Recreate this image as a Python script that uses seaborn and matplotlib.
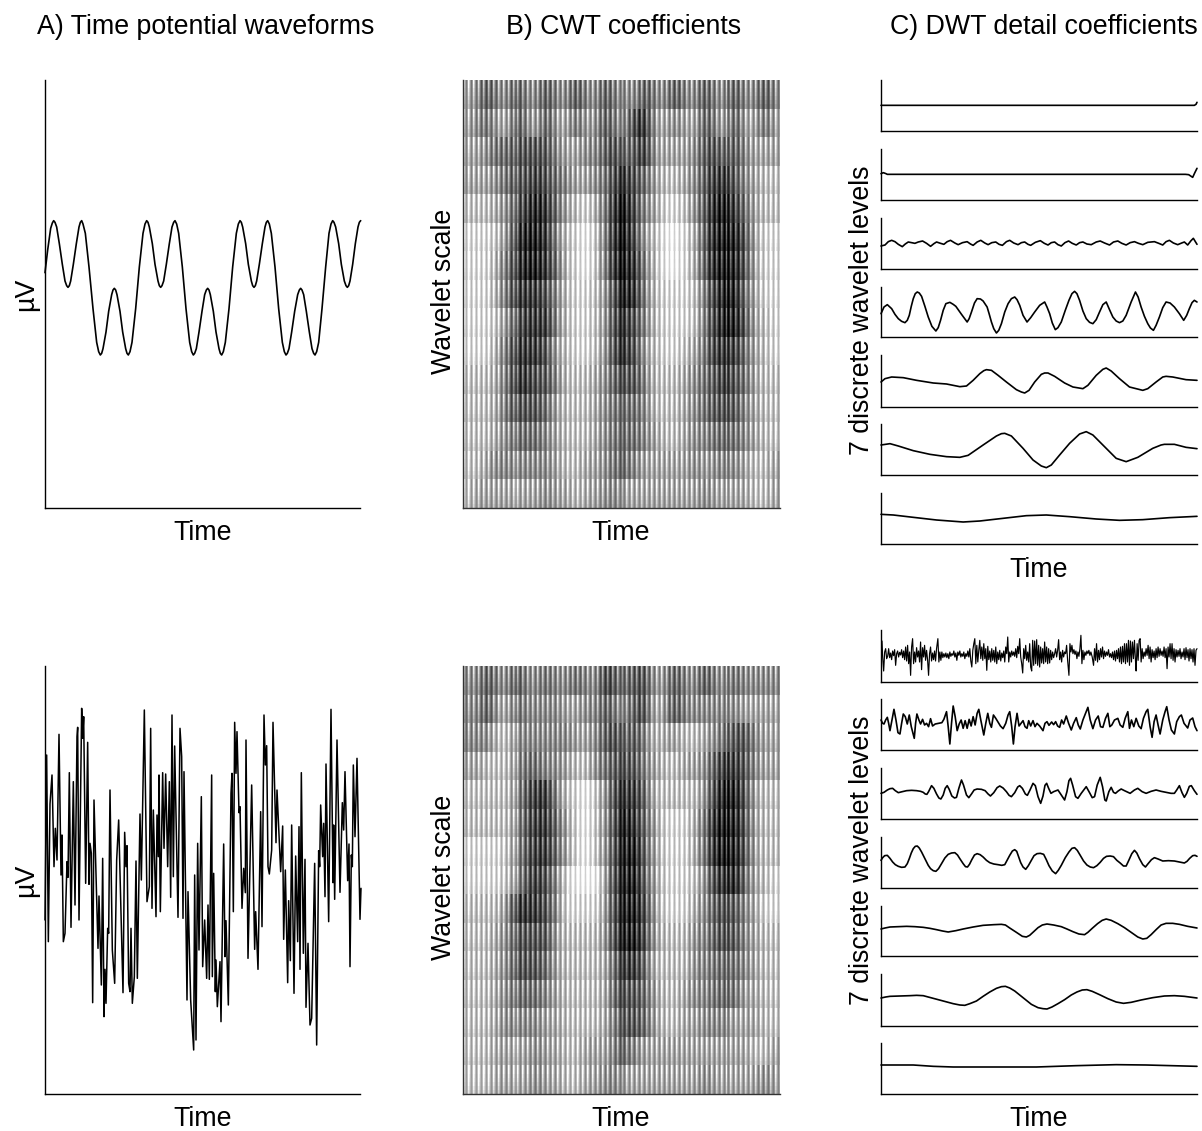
import numpy as np
import pandas as pd
import matplotlib
matplotlib.use("Agg")
import matplotlib.pyplot as plt
import seaborn as sns

# ---------- A) waveforms: (time, potential) readings ----------
WAVE_CLEAN_T = [0,8,17,22,26,30,35,43,52,60,65,69,73,77,85,94,102,106,110,114,121,132,144,155,161,166,170,174,183,191,200,204,208,212,216,225,233,242,246,250,255,
                261,272,283,294,300,305,309,313,322,330,339,343,347,351,356,364,373,381,386,390,395,401,412,423,434,440,445,449,454,462,471,479,484,488,492,
                496,505,513,522,526,530,535,541,552,563,574,580,585,589,593,602,610,619,623,627,631,635,643,652,660,664,668,673,679,690,701,712,718,723,727,
                732,740,749,758,763,767,771,776,784,793,801,806,810,815,821,831,842,852,858,863,867,872,881,889,898,903,907,911,915,923,931,939,943,947]
WAVE_CLEAN_V = [706,774,839,855,862,857,843,793,731,681,667,662,667,681,731,793,843,857,862,852,824,723,598,497,469,459,464,478,528,590,640,654,659,654,640,590,528,478,464,459,469,
                497,598,723,824,852,862,857,843,793,731,681,667,662,667,681,731,793,843,857,862,852,824,723,598,497,469,459,464,478,528,590,640,654,659,654,
                640,590,528,478,464,459,469,497,598,723,824,852,862,857,843,793,731,681,667,662,667,681,731,793,843,857,862,852,824,723,598,497,469,459,464,
                478,528,590,640,654,659,654,640,590,528,478,464,459,469,497,598,723,824,852,862,857,843,793,731,681,667,662,667,681,731,793,843,857,862]
WAVE_NOISY = [(45,690),(50,195),(55,755),(60,342),(66,255),(72,530),(76,415),(81,510),(87,133),(93,555),(96,435),(100,755),(105,730),(111,515),(114,562),(118,248),(123,712),(130,275),(135,645),(141,140),(143,112),(147,690),(155,55),(158,145),(161,80),(167,580),(173,157),(177,583),(180,460),(184,490),(188,938),(192,330),(204,775),(207,618),(214,885),(218,505),(222,980),(225,838),(228,940),(233,715),(236,730),(240,300),(247,780),(254,880),(260,510),(266,390),(279,908),(284,427),(288,530),(291,467),(296,880),(300,905),(303,715),(307,940),(313,860),(318,513),(322,865),(330,372),(334,570),(343,60),(351,635),(358,590),(362,115),(366,655),(370,360),(378,680),(381,375),(385,500),(387,255),(391,665),(398,248),(402,475),(407,252),(413,530),(418,275),(422,622),(426,75),(430,560),(434,168),(444,682),(450,115),(455,200),(459,685),(462,245),(471,930),(474,605),(482,930),(491,1080),(494,555),(498,1050),(503,460),(507,780),(514,320),(518,830),(524,690),(530,865),(534,645),(538,868),(545,255),(547,860),(551,550),(556,905),(558,810),(562,950),(570,815),(573,995),(581,462),(585,800),(588,692),(595,945),(603,310),(606,250),(610,665),(614,97),(618,250),(621,125),(627,368),(630,350),(636,655),(641,535),(646,608),(648,150),(654,805),(665,285),(674,778),(677,665),(684,838),(692,365),(696,710),(702,75),(706,225),(710,167),(714,530),(718,552),(725,480),(729,97),(738,458),(741,300),(752,545),(758,408),(761,748),(766,540),(773,878),(776,632),(781,812),(785,405),(792,910),(797,498),(803,755),(807,410),(810,838),(814,248),(820,790),(825,508),(828,952),(834,760),(840,1005),(845,985),(854,520),(860,1065),(866,482),(869,530),(872,345),(878,500),(881,400),(885,620),(888,222),(896,695),(903,58),(909,578),(911,405),(914,628),(921,150),(930,607),(937,338),(941,420),(945,245),(953,572),(957,462),(960,830),(964,495),(967,530),(970,225),(975,440),(981,205),(990,688),(993,595)]

# ---------- C) DWT detail levels: (time, reading) ----------
D_TOP_1 = [(33,106),(975,106),(980,103),(983,97)]
D_TOP_2 = [(33,312),(40,309),(48,312),(52,314),(948,314),(958,315),(970,323),(976,310),(983,296)]
D_TOP_3 = [(33,528),(45,525),(55,515),(65,511),(75,515),(85,523),(97,530),(106,522),(115,516),(125,518),(135,520),(145,516),(158,513),(170,520),(182,529),(192,521),(200,516),(212,520),(222,523),(232,515),(242,511),(255,519),(265,524),(278,518),(292,515),(302,522),(310,526),(322,516),(333,511),(345,519),(355,524),(366,518),(378,516),(388,523),(398,526),(410,515),(420,511),(432,519),(445,524),(455,518),(465,516),(475,523),(483,526),(497,517),(512,512),(524,520),(535,525),(545,518),(555,516),(565,524),(575,528),(586,518),(597,513),(608,520),(620,525),(630,518),(640,516),(652,522),(665,524),(680,516),(692,513),(705,519),(720,525),(732,516),(745,513),(757,520),(770,525),(782,518),(795,515),(807,520),(820,524),(835,517),(855,515),(868,520),(880,525),(890,515),(900,511),(912,519),(925,524),(937,519),(945,516),(955,525),(965,512),(972,505),(983,523)]
D_TOP_4 = [(33,730),(42,710),(52,703),(65,715),(75,732),(85,745),(95,753),(105,757),(112,750),(118,735),(124,708),(130,685),(136,670),(142,665),(148,668),(155,678),(165,708),(175,740),(186,768),(198,782),(205,772),(212,750),(220,720),(228,700),(240,696),(250,702),(258,708),(275,732),(292,755),(298,745),(305,725),(314,698),(322,685),(332,686),(340,692),(352,710),(358,730),(365,755),(372,775),(380,788),(387,780),(395,760),(405,725),(415,700),(425,685),(435,680),(442,688),(450,705),(460,735),(472,755),(483,742),(495,725),(510,705),(525,695),(532,710),(540,730),(548,758),(557,778),(565,772),(575,755),(587,720),(598,690),(607,670),(615,663),(622,670),(630,690),(640,722),(650,745),(660,756),(670,760),(680,748),(690,725),(700,703),(710,695),(720,718),(730,740),(740,752),(750,757),(760,752),(770,735),(785,695),(798,665),(806,680),(815,710),(825,738),(835,760),(843,773),(852,780),(860,765),(870,740),(880,712),(890,695),(902,698),(915,710),(930,730),(943,750),(952,735),(960,715),(968,697),(975,690),(983,695)]
D_TOP_5 = [(33,125),(45,115),(65,110),(100,112),(140,120),(190,128),(230,131),(270,139),(290,137),(310,120),(330,100),(342,91),(350,88),(365,90),(385,105),(410,125),(440,148),(455,155),(465,158),(478,150),(495,125),(515,102),(525,98),(535,98),(555,108),(585,128),(610,140),(640,145),(655,135),(680,105),(700,87),(710,83),(725,92),(750,115),(780,140),(820,150),(835,145),(860,125),(880,110),(890,108),(910,110),(950,118),(983,120)]
D_TOP_6 = [(33,315),(60,311),(85,318),(130,332),(180,343),(230,350),(270,352),(295,346),(340,315),(380,288),(395,281),(405,280),(425,288),(460,325),(490,360),(515,378),(530,383),(545,375),(570,345),(600,310),(630,282),(650,275),(670,285),(700,315),(740,355),(770,365),(805,352),(850,325),(875,315),(885,313),(915,313),(950,322),(983,326)]
D_TOP_7 = [(33,523),(70,525),(130,532),(200,540),(280,546),(330,543),(400,535),(470,527),(530,525),(600,530),(680,537),(750,541),(820,539),(900,533),(983,529)]
D_BOT_1 = [(36,62),(38,110),(41,152),(44,95),(47,85),(50,115),(53,108),(56,85),(59,112),(62,98),(65,118),(68,92),(71,106),(74,88),(77,135),(80,100),(83,92),(86,110),(89,96),(92,104),(95,88),(98,112),(101,92),(104,118),(107,80),(110,122),(113,75),(116,130),(119,95),(122,165),(125,80),(128,55),(131,130),(134,95),(137,125),(140,82),(143,110),(146,92),(149,125),(152,65),(155,148),(158,82),(161,110),(164,75),(167,120),(170,90),(173,118),(176,165),(179,100),(182,80),(185,122),(188,98),(191,118),(194,92),(197,122),(200,85),(204,55),(207,125),(210,95),(213,120),(216,95),(219,112),(222,100),(225,110),(228,98),(231,112),(234,100),(237,115),(240,95),(243,108),(246,100),(249,105),(252,92),(255,110),(258,98),(261,120),(264,95),(267,105),(270,92),(273,110),(276,100),(279,108),(282,95),(285,115),(288,100),(291,108),(294,92),(297,110),(300,85),(303,122),(306,140),(309,90),(312,70),(315,55),(318,130),(321,75),(324,125),(327,90),(330,60),(333,115),(336,80),(339,120),(342,70),(345,115),(348,85),(351,150),(354,78),(357,118),(360,92),(363,125),(366,85),(369,120),(372,90),(375,125),(378,80),(381,130),(384,95),(387,118),(390,90),(393,122),(396,98),(399,112),(402,92),(405,125),(408,80),(411,100),(414,50),(417,125),(420,95),(423,110),(426,92),(429,105),(432,95),(435,108),(438,85),(441,112),(444,78),(447,100),(450,55),(453,110),(456,130),(459,158),(462,85),(465,115),(468,75),(471,120),(474,95),(477,125),(480,70),(483,140),(486,152),(489,60),(492,135),(495,62),(498,130),(501,58),(504,135),(507,75),(510,140),(513,80),(516,128),(519,85),(522,130),(525,65),(528,125),(531,80),(534,130),(537,85),(540,128),(543,90),(546,118),(549,95),(552,112),(555,100),(558,85),(561,110),(564,90),(567,58),(570,118),(573,95),(576,125),(579,90),(582,110),(585,95),(588,100),(591,75),(594,120),(598,165),(601,70),(604,95),(607,75),(610,100),(613,88),(616,102),(619,92),(622,115),(625,95),(628,108),(631,85),(634,45),(637,130),(640,90),(643,118),(646,95),(649,105),(652,92),(655,100),(658,90),(661,105),(664,95),(668,110),(672,135),(675,85),(678,120),(681,70),(684,125),(687,90),(690,118),(693,85),(696,110),(699,80),(702,115),(705,92),(708,108),(711,95),(714,105),(717,88),(720,110),(723,100),(726,112),(729,95),(732,118),(735,92),(738,122),(741,90),(744,115),(747,85),(750,125),(753,80),(756,130),(759,78),(762,125),(765,70),(768,130),(771,70),(774,125),(777,60),(780,135),(783,62),(786,125),(789,65),(792,115),(795,60),(798,120),(800,152),(803,70),(806,120),(809,60),(812,55),(815,125),(818,85),(821,115),(824,95),(827,108),(830,85),(833,105),(836,75),(839,115),(842,80),(845,125),(848,88),(851,112),(854,92),(857,118),(860,85),(863,112),(866,80),(869,108),(872,85),(875,105),(878,92),(881,108),(884,80),(887,112),(890,85),(893,145),(896,80),(899,110),(902,70),(905,115),(908,70),(911,120),(914,85),(917,125),(920,88),(923,110),(926,90),(929,108),(932,85),(935,115),(938,95),(941,110),(944,85),(947,118),(950,82),(953,112),(956,88),(959,122),(962,85),(965,115),(968,88),(971,125),(974,85),(977,135),(980,90),(983,85)]
D_BOT_2 = [(33,300),(38,310),(42,312),(47,300),(52,292),(56,310),(60,332),(66,300),(72,268),(78,300),(84,338),(90,342),(95,310),(100,282),(106,290),(112,312),(118,285),(124,320),(133,355),(137,310),(141,282),(147,300),(152,312),(158,298),(164,315),(170,310),(176,320),(182,296),(188,318),(196,312),(206,310),(216,308),(222,298),(230,275),(235,320),(240,372),(245,310),(250,258),(256,290),(262,332),(268,312),(274,300),(280,325),(286,302),(292,325),(298,298),(304,318),(310,290),(316,315),(322,280),(327,268),(333,300),(342,345),(348,310),(354,280),(360,310),(365,322),(371,285),(378,295),(384,305),(392,318),(400,326),(408,310),(415,285),(420,275),(426,320),(431,372),(436,320),(442,280),(448,318),(454,310),(460,302),(466,320),(472,325),(477,302),(483,318),(490,302),(496,320),(502,310),(510,318),(520,332),(526,310),(532,305),(538,316),(546,306),(552,314),(558,305),(564,318),(570,322),(576,300),(582,312),(590,288),(597,310),(605,330),(612,310),(620,293),(626,315),(632,327),(640,300),(648,280),(655,262),(662,300),(670,326),(678,300),(686,288),(693,320),(700,322),(708,295),(715,280),(721,320),(727,315),(735,300),(745,295),(752,315),(760,322),(767,295),(775,275),(780,325),(786,300),(793,320),(800,295),(808,318),(815,326),(822,295),(830,275),(835,268),(842,320),(848,352),(854,305),(860,285),(866,315),(872,342),(880,300),(887,275),(892,260),(899,300),(906,330),(915,342),(922,305),(930,290),(936,285),(944,310),(955,324),(962,300),(970,294),(977,320),(983,332)]
D_BOT_3 = [(33,520),(42,517),(52,510),(60,506),(68,505),(76,512),(85,518),(97,515),(110,512),(125,511),(140,512),(152,514),(160,517),(166,522),(171,523),(176,515),(185,497),(192,505),(200,522),(207,534),(213,537),(220,525),(226,505),(232,497),(238,508),(246,528),(254,534),(260,532),(267,505),(275,480),(281,495),(290,525),(297,533),(305,522),(313,510),(322,507),(335,508),(346,512),(355,522),(362,528),(372,518),(382,503),(390,498),(400,504),(410,515),(418,526),(425,530),(435,518),(444,501),(450,497),(458,505),(467,522),(473,526),(481,510),(490,490),(497,497),(505,530),(513,550),(520,528),(526,496),(531,490),(537,505),(544,520),(552,515),(565,510),(575,525),(585,540),(592,515),(598,482),(603,475),(609,495),(618,530),(625,535),(635,520),(650,500),(660,518),(668,533),(675,530),(683,495),(692,472),(699,500),(706,540),(710,543),(718,515),(725,502),(732,517),(738,520),(746,513),(755,507),(765,512),(782,520),(795,510),(805,505),(818,515),(830,520),(845,514),(860,510),(875,514),(890,517),(905,520),(915,520),(922,510),(930,497),(938,518),(945,532),(952,520),(960,499),(966,497),(975,512),(983,523)]
D_BOT_4 = [(33,90),(38,82),(44,76),(52,75),(60,84),(68,95),(76,103),(85,108),(95,111),(105,110),(112,100),(118,85),(124,68),(130,55),(136,48),(142,47),(148,53),(155,65),(165,85),(175,105),(182,115),(190,121),(198,123),(206,115),(215,100),(225,83),(235,72),(245,68),(255,67),(263,74),(270,85),(280,100),(287,109),(293,110),(299,102),(306,88),(314,74),(322,70),(331,73),(340,80),(350,90),(360,97),(372,101),(385,103),(396,105),(405,103),(412,90),(420,75),(428,62),(435,58),(441,63),(447,80),(453,97),(460,110),(468,117),(476,106),(485,90),(493,76),(502,70),(512,69),(522,72),(530,88),(538,106),(548,122),(558,130),(566,120),(575,105),(587,82),(598,65),(607,54),(615,52),(623,60),(632,75),(642,92),(652,104),(662,110),(672,112),(682,106),(692,96),(702,84),(711,78),(722,77),(732,79),(742,90),(752,98),(762,107),(770,107),(778,90),(787,70),(795,60),(802,68),(810,85),(820,103),(828,110),(836,100),(846,88),(855,82),(866,86),(880,92),(897,91),(915,92),(930,95),(945,98),(953,93),(961,84),(970,76),(977,75),(983,78)]
D_BOT_5 = [(33,298),(45,295),(60,292),(85,291),(110,290),(135,291),(160,293),(180,296),(200,300),(218,304),(235,307),(258,303),(280,298),(310,292),(340,287),(372,285),(395,284),(407,286),(420,295),(440,308),(458,320),(470,322),(480,317),(492,306),(505,294),(518,286),(532,283),(552,286),(575,291),(592,298),(610,306),(628,313),(645,315),(655,308),(668,296),(684,282),(698,272),(710,268),(725,272),(745,282),(765,294),(785,308),(805,322),(820,328),(832,326),(845,315),(860,300),(875,286),(890,281),(910,281),(930,284),(955,290),(983,295)]
D_BOT_6 = [(33,503),(47,500),(60,498),(90,497),(120,496),(140,495),(160,496),(190,504),(220,512),(250,520),(270,524),(285,525),(300,520),(320,512),(340,498),(360,485),(380,474),(395,469),(407,468),(420,473),(435,482),(460,502),(485,522),(505,532),(520,535),(532,536),(547,530),(565,520),(585,508),(605,494),(622,485),(638,479),(652,478),(668,483),(690,493),(715,505),(740,515),(762,519),(785,516),(815,509),(850,502),(885,497),(915,496),(945,498),(983,503)]
D_BOT_7 = [(33,706),(130,706),(190,710),(250,712),(500,712),(620,708),(740,705),(830,706),(983,710)]
D_TOP_BASES = [183, 391, 597, 800, 200, 405, 612]
D_BOT_BASES = [185, 390, 597, 173, 379, 587, 793]

# ---------- B) CWT brightness readings: one row per wavelet scale ----------
CWT_TOP = ["6535 5355 3553 5535 5535 5355 3553 5535",
           "6546 6356 3664 6535 5226 6566 3563 6646",
           "6654 4333 3566 5533 4326 6665 3343 5666",
           "6665 4332 3456 6542 2346 7765 3223 5677",
           "7776 5321 2467 8641 1356 8875 3112 4677",
           "8887 5211 2578 9741 1367 9986 3111 3688",
           "8886 4211 2478 9741 1257 9986 3111 3688",
           "8886 4222 3578 8752 1257 8887 4211 4688",
           "8887 5322 2578 8752 2357 8887 4211 3678",
           "8886 4222 3678 8752 2367 8876 4222 4678",
           "7776 4223 3577 7653 3357 7765 4323 4677",
           "7776 4333 4677 7654 4457 7765 4333 5677",
           "7776 5444 5677 7654 4456 7765 5444 5677",
           "7765 5555 5677 6654 4566 6665 6555 6776",
           "7666 6666 5667 6655 6666 6666 5666 6776"]
CWT_BOT = ["5535 5355 4554 5524 4336 5355 3554 5555",
           "5536 6455 5566 5535 5337 5355 5555 6666",
           "5557 7555 5556 6533 4357 6677 6543 3566",
           "6677 7544 5567 7543 3356 7766 5322 3566",
           "7777 7532 2578 9752 2247 7777 5211 3677",
           "7777 7532 2468 9752 1246 8886 4111 3677",
           "8888 7532 2468 9752 1146 8886 4111 3677",
           "8888 7532 3589 9952 1146 8887 5221 4678",
           "7777 5222 3588 8852 1136 8886 5333 5688",
           "7776 5333 3677 7752 1136 7775 5333 5677",
           "7776 5333 4677 7763 2247 7775 5444 5677",
           "7776 5444 5677 7763 3346 7765 5444 6677",
           "7776 5555 6677 7764 3346 7766 5556 6677",
           "7776 6665 6677 6664 4566 6666 6666 6776",
           "7776 6665 6677 6655 6666 6666 5666 6656"]
STRIPE_SHAPE = [0.25, 0.10, -0.08, -0.20, -0.07]      # one period of the fine vertical striping
BAND_SHIFT = [0.05, 0.04, 0.02, 0.01, -0.01, -0.03, -0.05]   # top-to-bottom drift in a scale band
BAND_STRIPE = [1.25, 1.15, 1.05, 0.95, 0.85, 0.75, 0.65]

TITLES = ["A) Time potential waveforms", "B) CWT coefficients", "C) DWT detail coefficients"]
XLABEL = "Time"
YLABELS = ["\u00b5V", "Wavelet scale", "7 discrete wavelet levels"]

# ---------- layout ----------
W, H = 1202, 1131
sns.set_theme(style="white")
plt.rcParams["font.family"] = ["Liberation Sans", "DejaVu Sans"]
FS = 19.3
plt.rcParams.update({"axes.linewidth": 1.0, "axes.edgecolor": "black", "text.color": "black",
                     "axes.labelcolor": "black"})
fig = plt.figure(figsize=(W / 100, H / 100), dpi=100, facecolor="white")


def axes_px(l, t, r, b):
    return fig.add_axes([l / W, 1 - b / H, (r - l) / W, (b - t) / H])


def finish(ax, xlabel_at=None, ylabel_at=None, ylabel=""):
    ax.set_xticks([]); ax.set_yticks([])
    sns.despine(ax=ax)
    ax.set_xlabel(XLABEL if xlabel_at else "")
    ax.set_ylabel(ylabel)
    if xlabel_at:
        ax.xaxis.label.set(fontsize=FS, va="center", ha="center")
        ax.xaxis.set_label_coords(xlabel_at[0] / W, 1 - (xlabel_at[1] + 2) / H, transform=fig.transFigure)
    if ylabel_at:
        ax.yaxis.label.set(fontsize=FS, va="center", ha="center")
        ax.yaxis.set_label_coords(ylabel_at[0] / W, 1 - ylabel_at[1] / H, transform=fig.transFigure)


def draw_line(ax, t, v, lw=1.2):
    sns.lineplot(x=t, y=v, ax=ax, color="black", lw=lw, estimator=None, sort=False,
                 errorbar=None, legend=False, clip_on=False)


def pairs(p):
    return [a for a, _ in p], [b for _, b in p]


def cwt_frame(rows):
    base = 0.07 + 0.93 * np.array([[int(c) for c in r.replace(" ", "")] for r in rows], float) / 9.0
    fine = np.repeat(base, 10, axis=1)
    kern = np.ones(15) / 15
    fine = np.array([np.convolve(np.pad(r, 7, mode="edge"), kern, mode="valid") for r in fine])
    cols = fine.shape[1]
    stripe = np.resize(STRIPE_SHAPE, cols)
    out = []
    for r in fine:
        for shift, gain in zip(BAND_SHIFT, BAND_STRIPE):
            out.append(r + shift + stripe * gain)
    return pd.DataFrame(np.clip(out, 0, 1))


# Column A
ax = axes_px(45, 80, 360, 508)
draw_line(ax, WAVE_CLEAN_T, WAVE_CLEAN_V)
ax.set_xlim(0, 945); ax.set_ylim(0, 1284)
finish(ax, (203, 531), (26, 294), YLABELS[0])

ax = axes_px(45, 666, 360, 1094)
t, v = pairs(WAVE_NOISY)
draw_line(ax, t, v, lw=1.1)
ax.set_xlim(45, 990); ax.set_ylim(1212, -72)
finish(ax, (203, 1117), (26, 880), YLABELS[0])

# Column B
for (top, bot, rows, xl, yl) in [(80, 508, CWT_TOP, (621, 531), (444, 291)),
                                 (666, 1094, CWT_BOT, (621, 1117), (444, 877))]:
    ax = axes_px(463, top, 780, bot)
    sns.heatmap(cwt_frame(rows), ax=ax, cmap="gray", vmin=0, vmax=1, cbar=False,
                xticklabels=False, yticklabels=False, rasterized=True)
    for s in ("left", "bottom"):
        ax.spines[s].set_visible(True)
        ax.spines[s].set_color("#333333")
    ax.spines["top"].set_visible(False); ax.spines["right"].set_visible(False)
    ax.set_xticks([]); ax.set_yticks([])
    ax.set_xlabel(XLABEL); ax.set_ylabel(YLABELS[1])
    ax.xaxis.label.set(fontsize=FS, va="center", ha="center")
    ax.xaxis.set_label_coords(xl[0] / W, 1 - (xl[1] + 2) / H, transform=fig.transFigure)
    ax.yaxis.label.set(fontsize=FS, va="center", ha="center")
    ax.yaxis.set_label_coords(yl[0] / W, 1 - yl[1] / H, transform=fig.transFigure)

# Column C
TOP_PANELS = [(80, 131), (149, 200), (218, 269), (287, 337), (355, 407), (424, 475), (493, 544)]
BOT_PANELS = [(630, 682), (699, 750), (768, 819), (837, 888), (906, 956), (974, 1026), (1043, 1094)]
TOP_SERIES = [D_TOP_1, D_TOP_2, D_TOP_3, D_TOP_4, D_TOP_5, D_TOP_6, D_TOP_7]
BOT_SERIES = [D_BOT_1, D_BOT_2, D_BOT_3, D_BOT_4, D_BOT_5, D_BOT_6, D_BOT_7]
for panels, series, bases, xl, yl in [(TOP_PANELS, TOP_SERIES, D_TOP_BASES, (1039, 568), (862, 310)),
                                      (BOT_PANELS, BOT_SERIES, D_BOT_BASES, (1039, 1117), (862, 860))]:
    for i, ((top, bot), s, b) in enumerate(zip(panels, series, bases)):
        ax = axes_px(881, top, 1197, bot)
        t, v = pairs(s)
        draw_line(ax, t, v, lw=0.85 if s is D_BOT_1 else 1.2)
        ax.set_xlim(33, 983)
        ax.set_ylim(b, b - (bot - top) * 3)
        finish(ax, xl if i == 6 else None, (yl if i == 3 else None), YLABELS[2] if i == 3 else "")

# Column titles
for txt, x in zip(TITLES, (206, 624, 1044)):
    fig.text(x / W, 1 - 27 / H, txt, ha="center", va="center", fontsize=FS)

fig.savefig("out.png", dpi=100, facecolor="white")
